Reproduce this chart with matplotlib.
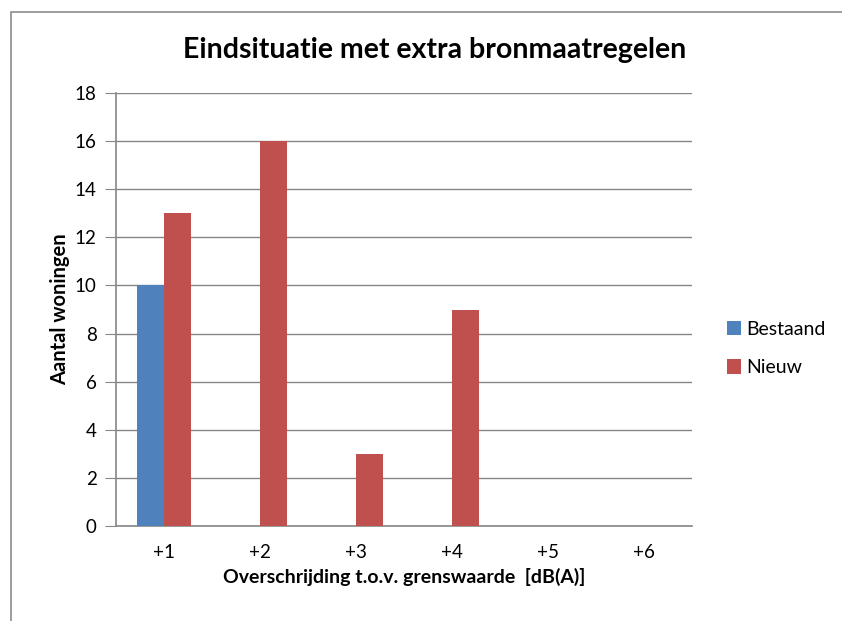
import numpy as np
import matplotlib.pyplot as plt
from matplotlib.patches import Rectangle

categories = ['+1', '+2', '+3', '+4', '+5', '+6']
bestaand = [10, 0, 0, 0, 0, 0]
nieuw = [13, 16, 3, 9, 0, 0]

plt.rcParams['font.family'] = ['Lato', 'DejaVu Sans']

fig = plt.figure(figsize=(8.42, 6.21), dpi=100)
# outer chart border (Excel style), runs off the right and bottom edges
fig.patches.append(Rectangle((11 / 842, -0.05), 1.0, 1 - 12 / 621 + 0.05,
                             transform=fig.transFigure, fill=False,
                             edgecolor='#8c8c8c', linewidth=1.2))

ax = fig.add_axes([116 / 842, 1 - 526 / 621, (692 - 116) / 842, (526 - 93) / 621])

x = np.arange(len(categories))
w = 0.285
ax.bar(x - w / 2, bestaand, w, color='#4f81bd', label='Bestaand', zorder=3)
ax.bar(x + w / 2, nieuw, w, color='#c0504d', label='Nieuw', zorder=3)

ax.set_xlim(-0.5, len(categories) - 0.5)
ax.set_ylim(0, 18)
ax.set_yticks(range(0, 19, 2))
ax.set_xticks(x)
ax.set_xticklabels(categories)
ax.yaxis.grid(True, color='#868686', linewidth=1, zorder=0)

for s in ['top', 'right']:
    ax.spines[s].set_visible(False)
for s in ['left', 'bottom']:
    ax.spines[s].set_color('#868686')
    ax.spines[s].set_linewidth(1.2)
ax.tick_params(axis='y', length=8, color='#868686', labelsize=13.5, pad=6)
ax.tick_params(axis='x', length=0, labelsize=13.5, pad=13)

fig.text(435 / 842, 1 - 50 / 621, 'Eindsituatie met extra bronmaatregelen',
         fontsize=20.5, fontweight='bold', ha='center', va='center')
ax.set_xlabel('Overschrijding t.o.v. grenswaarde  [dB(A)]', fontsize=14,
              fontweight='bold', labelpad=5)
ax.set_ylabel('Aantal woningen', fontsize=14.5, fontweight='bold', labelpad=3)

ax.legend(loc='center left', bbox_to_anchor=(1.03, 0.41), frameon=False,
          fontsize=14, handlelength=0.75, handleheight=0.75, labelspacing=1.1,
          handletextpad=0.25)

fig.savefig('out.png', dpi=100)
